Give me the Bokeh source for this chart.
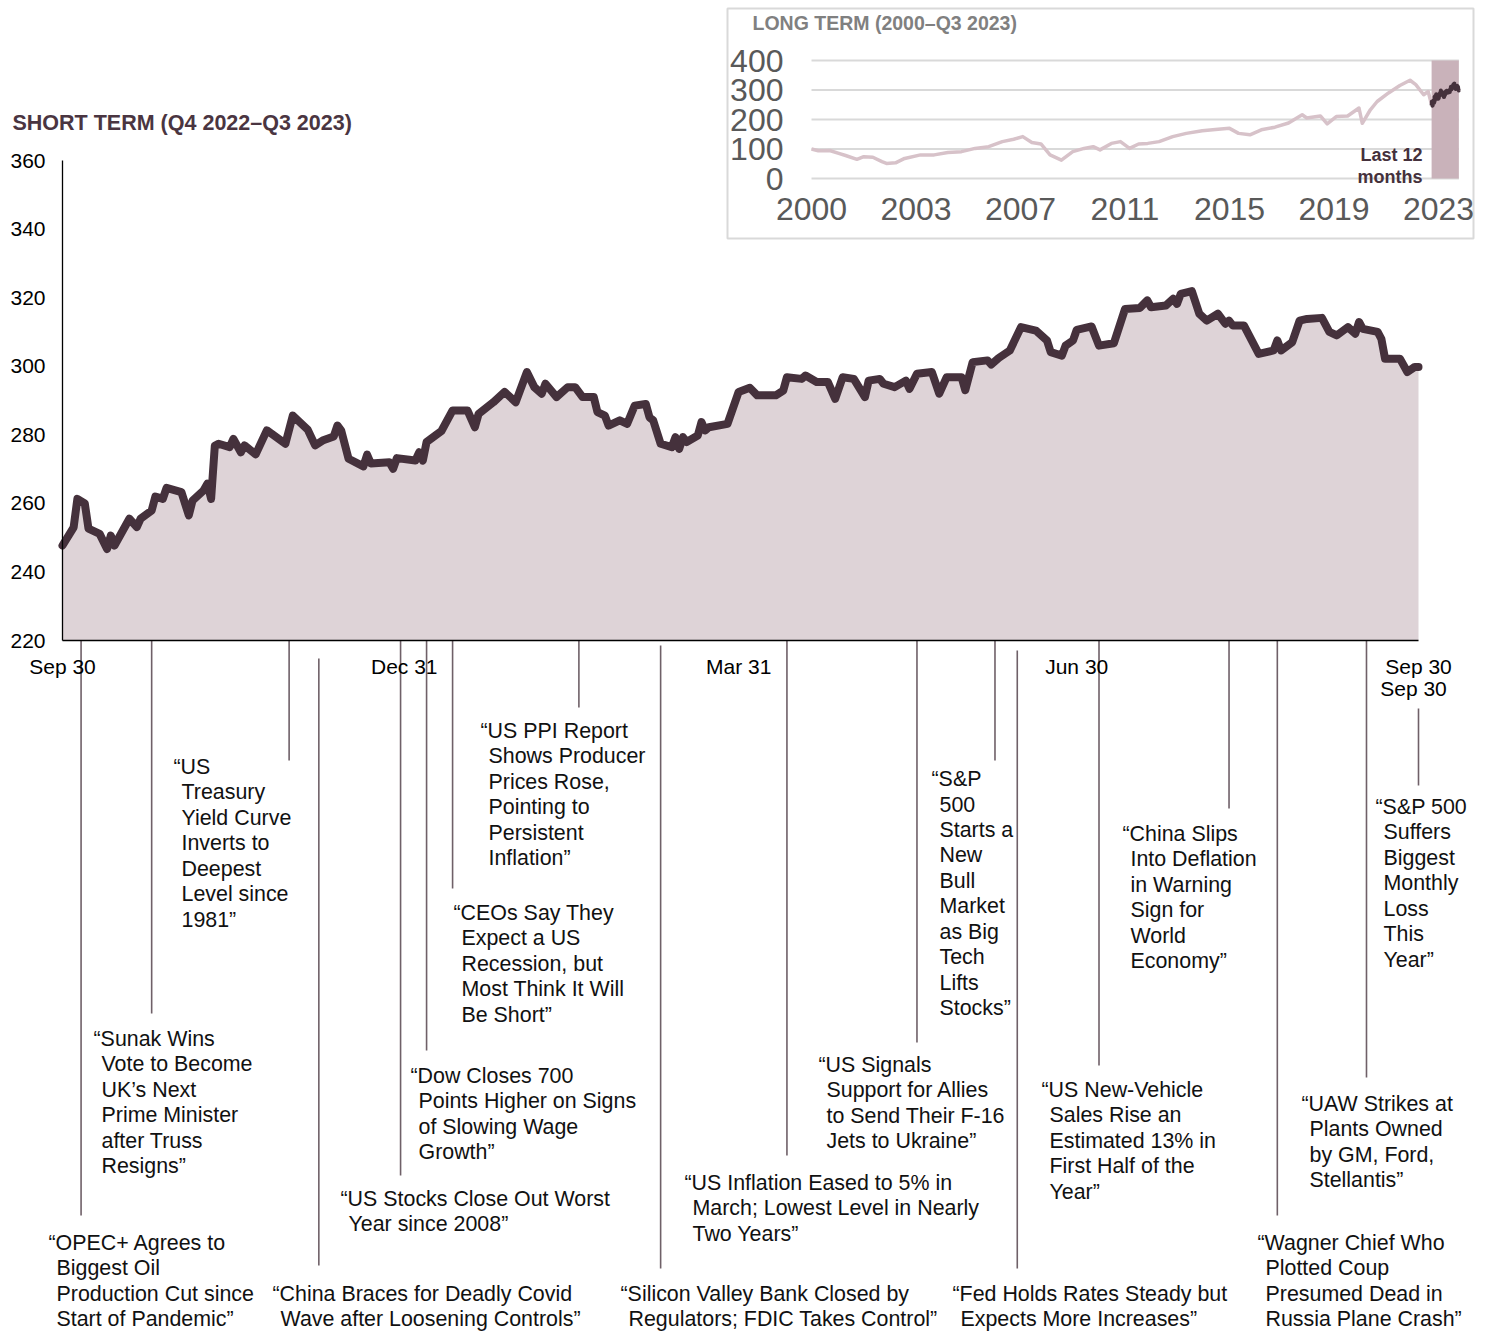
import pandas as pd
from bokeh.plotting import figure
from bokeh.models import Range1d, LinearAxis, FixedTicker, ColumnDataSource
from bokeh.core.properties import value
from bokeh.embed import file_html
from bokeh.resources import INLINE

# ---------------- DATA ----------------
short_dates = [
    "2022-09-30", "2022-10-03", "2022-10-04", "2022-10-06", "2022-10-07", "2022-10-10", "2022-10-12",
    "2022-10-13", "2022-10-14", "2022-10-18", "2022-10-20", "2022-10-21", "2022-10-24", "2022-10-25",
    "2022-10-27", "2022-10-28", "2022-11-01", "2022-11-03", "2022-11-04", "2022-11-07", "2022-11-08",
    "2022-11-09", "2022-11-10", "2022-11-11", "2022-11-14", "2022-11-15", "2022-11-17", "2022-11-18",
    "2022-11-21", "2022-11-24", "2022-11-29", "2022-12-01", "2022-12-05", "2022-12-07", "2022-12-09",
    "2022-12-12", "2022-12-13", "2022-12-14", "2022-12-16", "2022-12-20", "2022-12-21", "2022-12-22",
    "2022-12-27", "2022-12-28", "2022-12-29", "2023-01-03", "2023-01-04", "2023-01-05", "2023-01-06",
    "2023-01-10", "2023-01-13", "2023-01-17", "2023-01-19", "2023-01-20", "2023-01-24", "2023-01-27",
    "2023-01-30", "2023-02-02", "2023-02-04", "2023-02-06", "2023-02-07", "2023-02-10", "2023-02-13",
    "2023-02-15", "2023-02-17", "2023-02-20", "2023-02-21", "2023-02-23", "2023-02-24", "2023-02-27",
    "2023-03-01", "2023-03-03", "2023-03-06", "2023-03-07", "2023-03-08", "2023-03-10", "2023-03-13",
    "2023-03-14", "2023-03-15", "2023-03-16", "2023-03-17", "2023-03-20", "2023-03-21", "2023-03-22",
    "2023-03-23", "2023-03-28", "2023-03-31", "2023-04-03", "2023-04-05", "2023-04-10", "2023-04-12",
    "2023-04-13", "2023-04-17", "2023-04-18", "2023-04-21", "2023-04-24", "2023-04-26", "2023-04-28",
    "2023-05-01", "2023-05-04", "2023-05-05", "2023-05-08", "2023-05-09", "2023-05-12", "2023-05-15",
    "2023-05-16", "2023-05-18", "2023-05-22", "2023-05-24", "2023-05-26", "2023-05-30", "2023-05-31",
    "2023-06-02", "2023-06-06", "2023-06-07", "2023-06-09", "2023-06-12", "2023-06-15", "2023-06-19",
    "2023-06-22", "2023-06-23", "2023-06-26", "2023-06-27", "2023-06-29", "2023-06-30", "2023-07-04",
    "2023-07-06", "2023-07-10", "2023-07-13", "2023-07-17", "2023-07-19", "2023-07-20", "2023-07-24",
    "2023-07-26", "2023-07-27", "2023-07-28", "2023-07-31", "2023-08-02", "2023-08-04", "2023-08-07",
    "2023-08-09", "2023-08-10", "2023-08-11", "2023-08-14", "2023-08-18", "2023-08-22", "2023-08-23",
    "2023-08-24", "2023-08-27", "2023-08-29", "2023-08-31", "2023-09-04", "2023-09-06", "2023-09-08",
    "2023-09-11", "2023-09-13", "2023-09-14", "2023-09-15", "2023-09-19", "2023-09-20", "2023-09-21",
    "2023-09-25", "2023-09-27", "2023-09-29", "2023-09-30",
]
short_values = [
    247.7, 253.0, 261.3, 260.0, 252.6, 251.1, 246.7,
    250.6, 247.7, 255.5, 253.1, 255.5, 257.9, 262.0,
    261.3, 264.5, 263.3, 256.5, 260.8, 263.8, 265.7,
    261.3, 276.8, 277.4, 276.4, 278.8, 274.9, 276.9,
    274.3, 281.3, 277.4, 285.6, 281.5, 276.9, 278.3,
    279.5, 282.7, 281.3, 273.0, 270.8, 274.2, 271.6,
    272.0, 270.1, 273.2, 272.5, 274.9, 272.5, 277.9,
    281.1, 287.1, 287.1, 282.2, 286.1, 289.5, 292.5,
    289.5, 298.3, 293.9, 292.0, 294.9, 291.0, 293.9,
    293.9, 291.0, 291.0, 286.6, 285.6, 282.7, 284.2,
    283.2, 288.5, 289.0, 285.1, 284.2, 277.4, 276.4,
    279.3, 275.9, 279.3, 277.9, 279.8, 283.7, 281.3,
    282.2, 283.2, 292.5, 293.7, 291.5, 291.5, 292.9,
    296.8, 296.3, 297.3, 295.4, 295.4, 290.5, 296.8,
    296.3, 291.0, 295.8, 296.3, 294.9, 293.9, 295.8,
    293.4, 297.8, 298.3, 292.0, 296.8, 296.8, 293.0,
    301.2, 301.7, 300.5, 302.4, 304.6, 311.4, 310.4,
    307.5, 304.1, 303.1, 306.0, 307.5, 310.6, 311.6,
    306.0, 306.7, 316.7, 317.0, 319.2, 317.2, 317.7,
    319.7, 318.2, 321.1, 321.9, 315.3, 313.3, 315.3,
    312.4, 313.3, 311.9, 311.9, 303.6, 304.6, 307.5,
    304.6, 307.0, 313.3, 313.8, 314.1, 310.0, 309.0,
    311.4, 309.5, 312.9, 310.9, 310.0, 308.0, 302.2,
    302.2, 298.3, 299.8, 299.8,
]

long_dates = [
    "2000-01-01", "2000-04-01", "2000-09-01", "2001-01-01", "2001-04-01", "2001-09-01", "2001-12-01",
    "2002-04-01", "2002-08-01", "2002-10-01", "2003-02-01", "2003-06-01", "2004-01-01", "2004-07-01",
    "2005-01-01", "2005-07-01", "2006-01-01", "2006-07-01", "2007-01-01", "2007-06-01", "2007-10-01",
    "2008-02-01", "2008-06-01", "2008-10-01", "2009-03-01", "2009-08-01", "2010-01-01", "2010-05-01",
    "2010-08-01", "2011-01-01", "2011-05-01", "2011-09-01", "2012-01-01", "2012-05-01", "2012-10-01",
    "2013-04-01", "2013-10-01", "2014-05-01", "2014-12-01", "2015-05-01", "2015-09-01", "2016-02-01",
    "2016-07-01", "2017-01-01", "2017-07-01", "2018-01-01", "2018-03-01", "2018-09-01", "2018-12-01",
    "2019-04-01", "2019-09-01", "2020-02-01", "2020-03-15", "2020-07-01", "2020-10-01", "2021-03-01",
    "2021-08-01", "2021-12-15", "2022-03-01", "2022-06-15", "2022-08-15", "2022-09-30",
]
long_values = [
    100, 94, 95, 85, 78, 65, 74,
    72, 57, 51, 53, 68, 80, 80,
    88, 91, 102, 108, 125, 133, 142,
    122, 117, 80, 62, 91, 102, 108,
    97, 119, 125, 102, 117, 119, 125,
    142, 153, 162, 167, 170, 153, 148,
    165, 174, 188, 216, 205, 212, 185,
    210, 212, 239, 187, 233, 261, 290,
    315, 333, 318, 284, 295, 250,
]

y_ticks = [220, 240, 260, 280, 300, 320, 340, 360]
x_tick_dates = ["2022-09-30", "2022-12-31", "2023-03-31", "2023-06-30", "2023-09-30"]
x_tick_labels = ["Sep 30", "Dec 31", "Mar 31", "Jun 30", "Sep 30"]

inset_y_ticks = [0, 100, 200, 300, 400]
inset_x_tick_months = [0, 46, 92, 138, 184, 230, 276]
inset_x_tick_labels = ["2000", "2003", "2007", "2011", "2015", "2019", "2023"]

title_short = "SHORT TERM (Q4 2022–Q3 2023)"
title_long = "LONG TERM (2000–Q3 2023)"
band_label = ["Last 12", "months"]

event_dates = [
    "2022-10-05", "2022-10-24", "2022-11-30", "2022-12-08", "2022-12-30", "2023-01-06",
    "2023-01-13", "2023-02-16", "2023-03-10", "2023-04-13", "2023-05-18", "2023-06-08",
    "2023-06-14", "2023-07-06", "2023-08-10", "2023-08-23", "2023-09-16", "2023-09-30",
]
event_texts = [
    "“OPEC+ Agrees to\nBiggest Oil\nProduction Cut since\nStart of Pandemic”",
    "“Sunak Wins\nVote to Become\nUK’s Next\nPrime Minister\nafter Truss\nResigns”",
    "“US\nTreasury\nYield Curve\nInverts to\nDeepest\nLevel since\n1981”",
    "“China Braces for Deadly Covid\nWave after Loosening Controls”",
    "“US Stocks Close Out Worst\nYear since 2008”",
    "“Dow Closes 700\nPoints Higher on Signs\nof Slowing Wage\nGrowth”",
    "“CEOs Say They\nExpect a US\nRecession, but\nMost Think It Will\nBe Short”",
    "“US PPI Report\nShows Producer\nPrices Rose,\nPointing to\nPersistent\nInflation”",
    "“Silicon Valley Bank Closed by\nRegulators; FDIC Takes Control”",
    "“US Inflation Eased to 5% in\nMarch; Lowest Level in Nearly\nTwo Years”",
    "“US Signals\nSupport for Allies\nto Send Their F-16\nJets to Ukraine”",
    "“S&P\n500\nStarts a\nNew\nBull\nMarket\nas Big\nTech\nLifts\nStocks”",
    "“Fed Holds Rates Steady but\nExpects More Increases”",
    "“US New-Vehicle\nSales Rise an\nEstimated 13% in\nFirst Half of the\nYear”",
    "“China Slips\nInto Deflation\nin Warning\nSign for\nWorld\nEconomy”",
    "“Wagner Chief Who\nPlotted Coup\nPresumed Dead in\nRussia Plane Crash”",
    "“UAW Strikes at\nPlants Owned\nby GM, Ford,\nStellantis”",
    "“S&P 500\nSuffers\nBiggest\nMonthly\nLoss\nThis\nYear”",
]

# ---------------- LAYOUT (page pixels) ----------------
W, H = 1486, 1332
PX_L, PX_R, PX_T, PX_B = 0, W, 0, H
# text block (x of opening quote, y of first line), leader line (top, bottom)
event_text_pos = [
    (48, 1242), (93, 1038), (173, 766), (272, 1293), (340, 1198), (410, 1075),
    (453, 912), (480, 730), (620, 1293), (684, 1182), (818, 1064), (931, 778),
    (952, 1293), (1041, 1089), (1122, 833), (1257, 1242), (1301, 1103), (1375, 806),
]
event_leader = [
    (640, 1215), (640, 1013), (640, 760), (658, 1265), (640, 1175), (640, 1050),
    (640, 888), (640, 707), (645, 1268), (640, 1155), (640, 1042), (640, 760),
    (650, 1268), (640, 1065), (640, 808), (640, 1215), (640, 1077), (708, 785),
]
LINE_STEP = 25.5
INDENT = 8

START = pd.Timestamp("2022-09-30")


def days(ds):
    return ((pd.to_datetime(pd.Series(ds)) - START) / pd.Timedelta(days=1)).to_numpy(dtype=float)


def months(ds):
    t = pd.to_datetime(pd.Series(ds))
    return ((t.dt.year - 2000) * 12 + (t.dt.month - 1) + (t.dt.day - 1) / t.dt.days_in_month).to_numpy(dtype=float)


def lin_range(v0, p0, v1, p1, pstart, pend):
    k = (v1 - v0) / (p1 - p0)
    return Range1d(start=v0 + (pstart - p0) * k, end=v0 + (pend - p0) * k)


FONT = value("Liberation Sans")
INK = "#45313c"
FILL = "#ded3d7"

p = figure(
    width=W, height=H,
    x_range=lin_range(0, 62, 365, 1418, PX_L, PX_R),
    y_range=lin_range(220, 640, 360, 160, PX_B, PX_T),
    output_backend="svg", toolbar_location=None,
    x_axis_location=None, y_axis_location=None,
    min_border=0, outline_line_color=None, background_fill_color="white",
)
p.grid.visible = False
p.extra_x_ranges = {
    "px": Range1d(PX_L, PX_R),
    "ix": lin_range(0, 811, 276, 1438, PX_L, PX_R),
}
p.extra_y_ranges = {
    "py": Range1d(PX_B, PX_T),
    "iy": lin_range(0, 178, 400, 60, PX_B, PX_T),
}

# ---------- main short-term chart ----------
src = ColumnDataSource(dict(x=days(short_dates), y=short_values))
p.varea(x="x", y1=y_ticks[0], y2="y", source=src, fill_color=FILL)
p.line(x="x", y="y", source=src, line_color=INK, line_width=8, line_join="round", line_cap="round")

yax = LinearAxis(
    fixed_location=0, bounds=(y_ticks[0], y_ticks[-1]), ticker=FixedTicker(ticks=y_ticks),
    major_tick_out=0, major_tick_in=0, minor_tick_out=0, minor_tick_in=0,
    major_label_standoff=17, major_label_text_font_size="21px",
    major_label_text_font="Liberation Sans", major_label_text_color="black",
    axis_line_color="black", axis_line_width=1.3,
)
p.add_layout(yax, "left")

xt = [float(v) for v in days(x_tick_dates)]
xax = LinearAxis(
    fixed_location=y_ticks[0], bounds=(xt[0], xt[-1]), ticker=FixedTicker(ticks=xt),
    major_label_overrides={v: l for v, l in zip(xt, x_tick_labels)},
    major_tick_out=0, major_tick_in=0, minor_tick_out=0, minor_tick_in=0,
    major_label_standoff=14, major_label_text_font_size="21px",
    major_label_text_font="Liberation Sans", major_label_text_color="black",
    axis_line_color="black", axis_line_width=1.3,
)
p.add_layout(xax, "below")
# duplicated end label as in the original
p.text(x=[1413], y=[688], text=[x_tick_labels[-1]], x_range_name="px", y_range_name="py",
       text_font=FONT, text_font_size="21px", text_color="black",
       text_align="center", text_baseline="middle")

p.text(x=[12], y=[122], text=[title_short], x_range_name="px", y_range_name="py",
       text_font=FONT, text_font_size="21.5px", text_font_style="bold", text_color="#4a3541",
       text_align="left", text_baseline="middle")

# ---------- events ----------
ex = days(event_dates)
p.segment(x0=ex, x1=ex, y0=[a for a, b in event_leader], y1=[b for a, b in event_leader],
          y_range_name="py", line_color="#6f6068", line_width=1.6)
tx, ty, tt = [], [], []
for (x0, y0), txt in zip(event_text_pos, event_texts):
    for i, ln in enumerate(txt.split("\n")):
        tx.append(x0 if i == 0 else x0 + INDENT)
        ty.append(y0 + i * LINE_STEP)
        tt.append(ln)
p.text(x=tx, y=ty, text=tt, x_range_name="px", y_range_name="py",
       text_font=FONT, text_font_size="21.4px", text_color="#111111",
       text_align="left", text_baseline="middle")

# ---------- inset long-term chart ----------
p.quad(left=[727], right=[1473], top=[8], bottom=[238], x_range_name="px", y_range_name="py",
       fill_color="white", line_color="#d9d9d9", line_width=2)
m_end = float(months([short_dates[-1]])[0])
p.segment(x0=0, x1=m_end, y0=inset_y_ticks, y1=inset_y_ticks, x_range_name="ix", y_range_name="iy",
          line_color="#d9d9d9", line_width=2)
p.quad(left=float(months([short_dates[0]])[0]), right=m_end, bottom=inset_y_ticks[0], top=inset_y_ticks[-1],
       x_range_name="ix", y_range_name="iy", fill_color="#c9b2ba", line_color=None)
p.line(x=months(long_dates), y=long_values, x_range_name="ix", y_range_name="iy",
       line_color="#d7c2c9", line_width=3.5, line_join="round")
p.line(x=months(short_dates), y=short_values, x_range_name="ix", y_range_name="iy",
       line_color=INK, line_width=4, line_join="round")

iyax = LinearAxis(
    x_range_name="ix", y_range_name="iy", fixed_location=0, ticker=FixedTicker(ticks=inset_y_ticks),
    axis_line_color=None, major_tick_out=0, major_tick_in=0, minor_tick_out=0, minor_tick_in=0,
    major_label_standoff=28, major_label_text_font_size="32px", major_label_text_font="Liberation Sans",
    major_label_text_color="#595959",
)
p.add_layout(iyax, "left")
ixax = LinearAxis(
    x_range_name="ix", y_range_name="iy", fixed_location=0, ticker=FixedTicker(ticks=inset_x_tick_months),
    major_label_overrides={v: l for v, l in zip(inset_x_tick_months, inset_x_tick_labels)},
    axis_line_color=None, major_tick_out=0, major_tick_in=0, minor_tick_out=0, minor_tick_in=0,
    major_label_standoff=19, major_label_text_font_size="32px", major_label_text_font="Liberation Sans",
    major_label_text_color="#595959",
)
p.add_layout(ixax, "below")

p.text(x=[752], y=[22], text=[title_long], x_range_name="px", y_range_name="py",
       text_font=FONT, text_font_size="19.5px", text_font_style="bold", text_color="#808080",
       text_align="left", text_baseline="middle")
p.text(x=[1422, 1422], y=[154, 176], text=band_label, x_range_name="px", y_range_name="py",
       text_font=FONT, text_font_size="18px", text_font_style="bold", text_color=INK,
       text_align="right", text_baseline="middle")

open("out.html", "w").write(file_html(p, INLINE))
